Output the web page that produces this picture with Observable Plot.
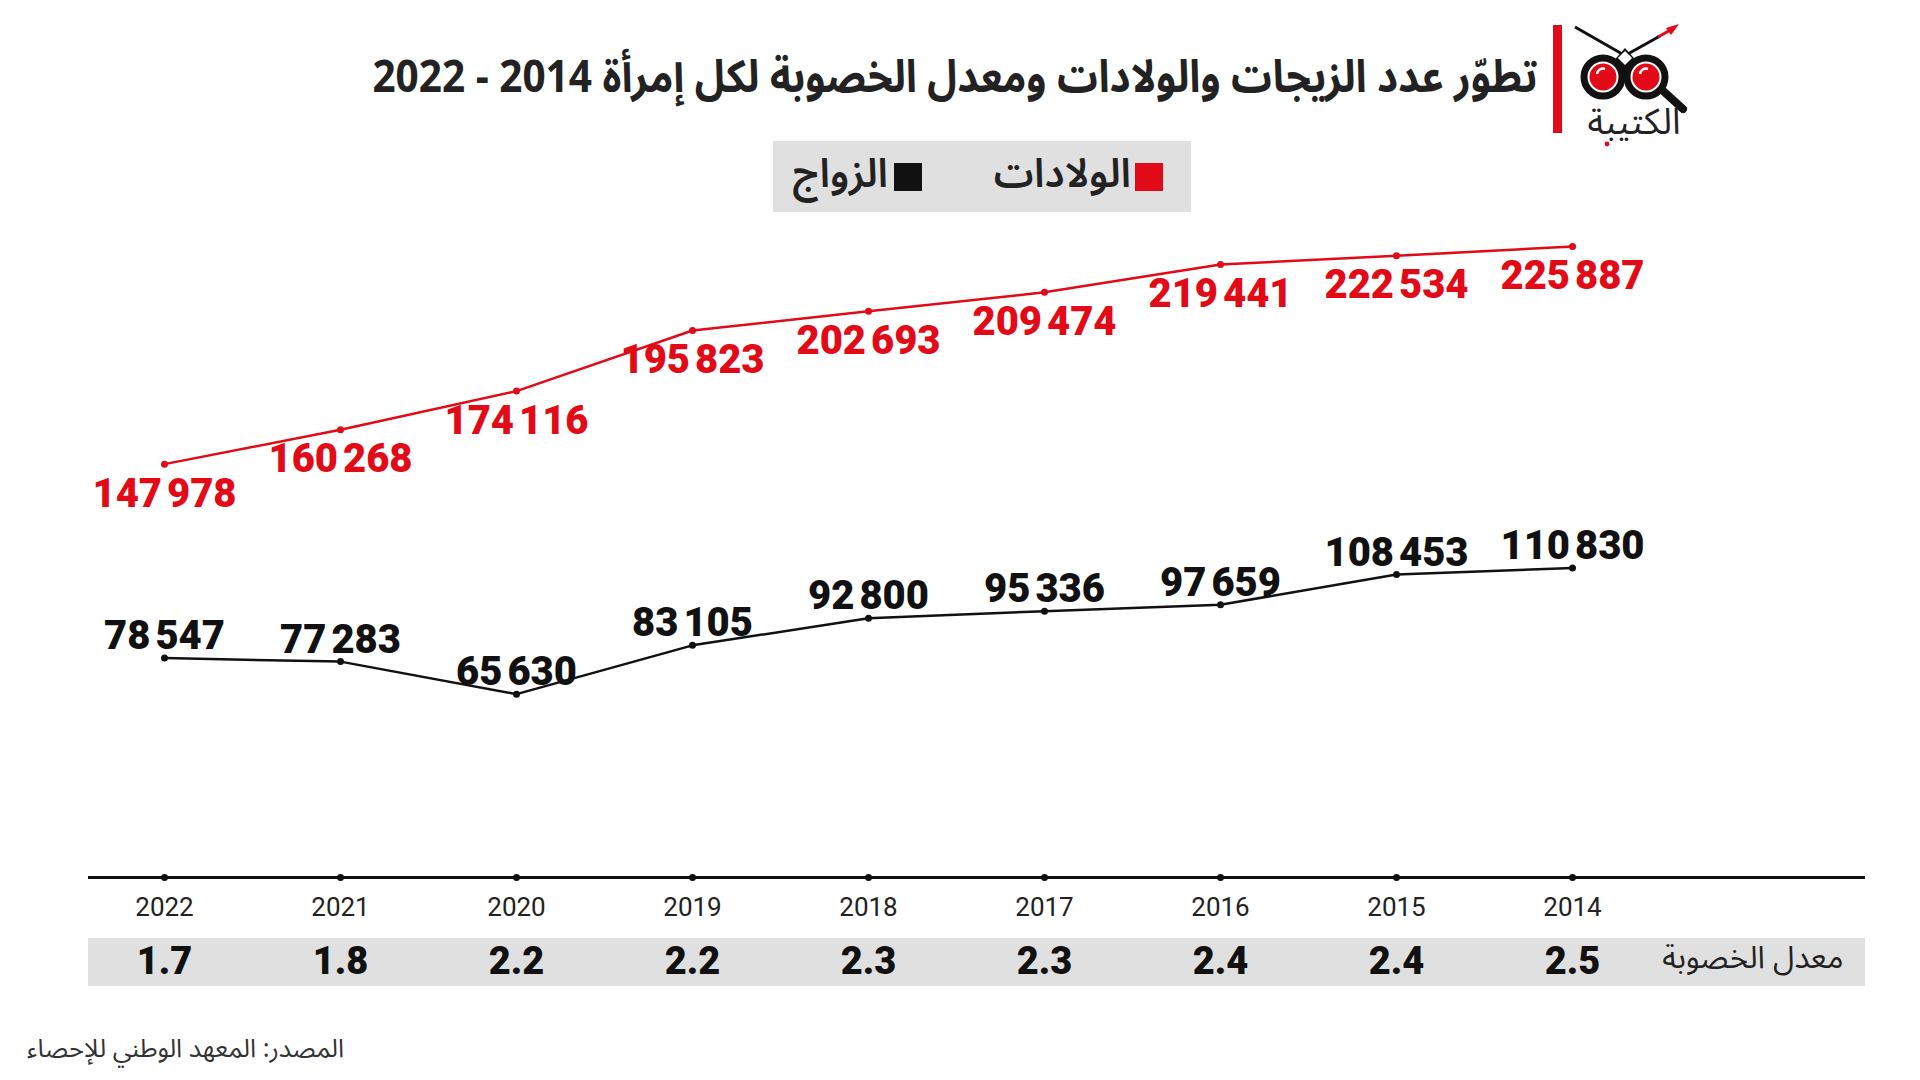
<!DOCTYPE html>
<html>
<head>
<meta charset="utf-8">
<script src="https://cdn.jsdelivr.net/npm/d3@7"></script>
<script src="https://cdn.jsdelivr.net/npm/@observablehq/plot@0.6"></script>
<style>
  html, body { margin: 0; padding: 0; background: #fff; }
  body { width: 1920px; height: 1080px; position: relative; overflow: hidden; }
  .ar { font-family: "Noto Sans Arabic", "DejaVu Sans", sans-serif; direction: rtl; }
  #title { position: absolute; right: 383px; top: 47px; line-height: 62px; font-size: 45px; font-weight: 700; color: #222; white-space: nowrap; transform: scaleX(0.9); transform-origin: right center; }
  #logo { position: absolute; left: 1540px; top: 15px; overflow: visible; }
  #legend { position: absolute; left: 773px; top: 141px; width: 418px; height: 71px; background: #e0e0e0; }
  .sw { position: absolute; top: 22px; width: 28px; height: 28px; }
  .lt { position: absolute; top: 8px; line-height: 52px; font-size: 40px; font-weight: 600; color: #222; white-space: nowrap; }
  #chart { position: absolute; left: 0; top: 215px; }
  #source { position: absolute; left: 27px; top: 1033px; font-size: 25.5px; color: #333; white-space: nowrap; line-height: 32px; }
</style>
</head>
<body>
<div id="title" class="ar"></div>
<svg id="logo" width="170" height="135" viewBox="0 0 170 135">
  <rect x="13" y="10" width="9" height="108" fill="#e30a17"/>
  <line x1="35" y1="12" x2="84" y2="40" stroke="#111" stroke-width="3"/>
  <line x1="86" y1="40" x2="120" y2="21" stroke="#111" stroke-width="3"/>
  <line x1="118" y1="22" x2="132" y2="14" stroke="#e30a17" stroke-width="3"/>
  <polygon points="139,9 126,13 131,20" fill="#e30a17"/>
  <line x1="121" y1="74" x2="143" y2="94" stroke="#111" stroke-width="8" stroke-linecap="round"/>
  <path d="M70,50 L85,33 L100,50 L85,66 Z" fill="#111"/>
  <rect x="80" y="38" width="10" height="10" transform="rotate(45 85 43)" fill="#fff"/>
  <circle cx="63" cy="62" r="19" fill="#fff" stroke="#111" stroke-width="7"/>
  <circle cx="106" cy="62" r="19" fill="#fff" stroke="#111" stroke-width="7"/>
  <circle cx="63" cy="62" r="13.5" fill="#e30a17"/>
  <circle cx="106" cy="62" r="13.5" fill="#e30a17"/>
  <path d="M57,59 a6,6 0 0,1 8,-5" stroke="#fff" stroke-width="2.5" fill="none"/>
  <path d="M100,59 a6,6 0 0,1 8,-5" stroke="#fff" stroke-width="2.5" fill="none"/>
  <text x="94" y="119" text-anchor="middle" font-family="Noto Sans Arabic, DejaVu Sans, sans-serif" font-size="36" font-weight="400" fill="#222">الكتيبة</text>
  <circle cx="67" cy="129" r="2.4" fill="#e30a17"/>
</svg>
<div id="legend" class="ar">
  <div class="sw" style="left:362px;background:#e30a17"></div>
  <div class="lt" id="lt1" style="right:60px"></div>
  <div class="sw" style="left:121px;background:#111"></div>
  <div class="lt" id="lt2" style="right:303px"></div>
</div>
<div id="chart"></div>
<div id="source" class="ar"></div>
<script>
// ---- data ----
const years = [2022, 2021, 2020, 2019, 2018, 2017, 2016, 2015, 2014];
const births = [147978, 160268, 174116, 195823, 202693, 209474, 219441, 222534, 225887];
const marriages = [78547, 77283, 65630, 83105, 92800, 95336, 97659, 108453, 110830];
const fertility = [1.7, 1.8, 2.2, 2.2, 2.3, 2.3, 2.4, 2.4, 2.5];
const seriesNames = ["الولادات", "الزواج"];
const titleText = "تطوّر عدد الزيجات والولادات ومعدل الخصوبة لكل إمرأة 2014 - 2022";
const fertilityLabel = "معدل الخصوبة";
const sourceText = "المصدر: المعهد الوطني للإحصاء";

const RED = "#e30a17";
const BLACK = "#111";

document.getElementById("title").textContent = titleText;
document.getElementById("lt1").textContent = seriesNames[0];
document.getElementById("lt2").textContent = seriesNames[1];
document.getElementById("source").textContent = sourceText;

const rows = years.map((year, i) => ({
  year, births: births[i], marriages: marriages[i], fertility: fertility[i]
}));

const fmt = d3.formatLocale({decimal: ".", thousands: "\u202F", grouping: [3], currency: ["", ""]}).format(",d");
const NUM_FONT = "Roboto, Inter, sans-serif";

const plot = Plot.plot({
  width: 1920,
  height: 785,
  marginTop: 31,
  marginBottom: 123,
  marginLeft: 88,
  marginRight: 55,
  x: {type: "point", domain: years, padding: 1.03, align: 0.206, axis: null},
  y: {domain: [0, d3.max(births)], axis: null},
  style: {background: "transparent", overflow: "visible"},
  marks: [
    // axis
    Plot.ruleY([0], {stroke: BLACK, strokeWidth: 3}),
    Plot.dot(rows, {x: "year", y: 0, r: 3.5, fill: BLACK, stroke: "none"}),
    Plot.text(rows, {x: "year", y: 0, text: d => String(d.year), dy: 30, fontSize: 26, fill: "#222", fontFamily: NUM_FONT}),
    // fertility row
    Plot.text(rows, {x: "year", y: 0, text: d => d.fertility.toFixed(1), dy: 84, fontSize: 38, fontWeight: 900, fill: BLACK, fontFamily: NUM_FONT}),
    Plot.text([fertilityLabel], {frameAnchor: "bottom-right", text: d => d, dx: -22, dy: 90, textAnchor: "end", fontSize: 31, fill: "#222", fontFamily: "Noto Sans Arabic, DejaVu Sans, sans-serif"}),
    // births
    Plot.line(rows, {x: "year", y: "births", stroke: RED, strokeWidth: 2.5}),
    Plot.dot(rows, {x: "year", y: "births", r: 3.5, fill: RED, stroke: "none"}),
    Plot.text(rows, {x: "year", y: "births", text: d => fmt(d.births), lineAnchor: "top", dy: 14, fontSize: 40, fontWeight: 900, fill: RED, fontFamily: NUM_FONT}),
    // marriages
    Plot.line(rows, {x: "year", y: "marriages", stroke: BLACK, strokeWidth: 2.5}),
    Plot.dot(rows, {x: "year", y: "marriages", r: 3.5, fill: BLACK, stroke: "none"}),
    Plot.text(rows, {x: "year", y: "marriages", text: d => fmt(d.marriages), lineAnchor: "bottom", dy: -9, fontSize: 40, fontWeight: 900, fill: BLACK, fontFamily: NUM_FONT})
  ]
});

// grey band behind the fertility row, placed from the chart's own scales
const xr = plot.scale("x").range;
const y0 = plot.scale("y").apply(0);
d3.select(plot).insert("rect", ":first-child")
  .attr("x", Math.min(...xr))
  .attr("width", Math.abs(xr[1] - xr[0]))
  .attr("y", y0 + 61)
  .attr("height", 48)
  .attr("fill", "#e0e0e0");

document.getElementById("chart").appendChild(plot);
</script>
</body>
</html>
